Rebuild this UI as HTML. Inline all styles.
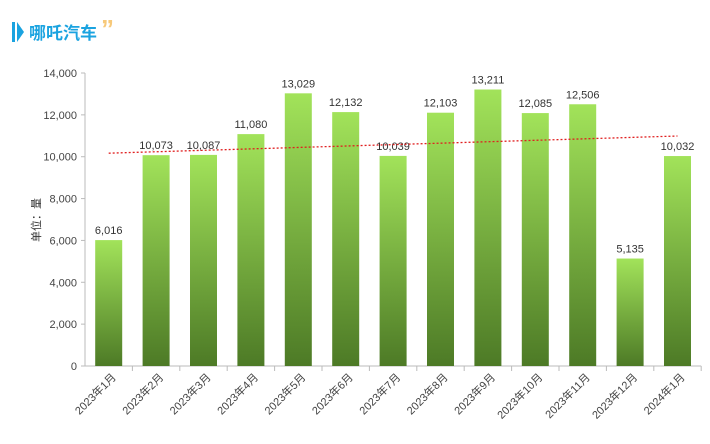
<!DOCTYPE html>
<html><head><meta charset="utf-8"><style>
body{margin:0;background:#fff;font-family:"Liberation Sans","Noto Sans CJK SC",sans-serif;}
#wrap{position:relative;width:710px;height:444px;overflow:hidden;}
</style></head><body>
<div id="wrap">
<svg id="chart" width="710" height="444" xmlns="http://www.w3.org/2000/svg">
<defs><linearGradient id="g" x1="0" y1="0" x2="0" y2="1">
<stop offset="0" stop-color="#a2e35a"/><stop offset="1" stop-color="#4d7a26"/></linearGradient></defs>
<rect x="12" y="22" width="3" height="20" fill="#1aa3e0"/>
<polygon points="17,22 24,32 17,42" fill="#1aa3e0"/>
<text x="29" y="39" font-size="17" font-weight="bold" fill="#1aa3e0">哪吒汽车</text>
<text x="101" y="38" font-size="26" font-weight="bold" fill="#f7c97a">”</text>
<text transform="translate(40,220) rotate(-90)" text-anchor="middle" font-size="11" fill="#333">单位：量</text>
<g id="plot"></g>
</svg>
</div>
<script>
const categories=["2023年1月","2023年2月","2023年3月","2023年4月","2023年5月","2023年6月","2023年7月","2023年8月","2023年9月","2023年10月","2023年11月","2023年12月","2024年1月"];
const values=[6016,10073,10087,11080,13029,12132,10039,12103,13211,12085,12506,5135,10032];
const yTicks=[0,2000,4000,6000,8000,10000,12000,14000];
const NS="http://www.w3.org/2000/svg";
const g=document.getElementById('plot');
const x0=85,cw=47.4,y0=366,yTop=73,yMax=14000,bw=27;
const y=v=>y0-(v/yMax)*(y0-yTop);
const x=i=>x0+i*cw;
function mk(t,a){const e=document.createElementNS(NS,t);for(const k in a)e.setAttribute(k,a[k]);g.appendChild(e);return e;}
let e=mk('line',{x1:x0,y1:yTop,x2:x0,y2:y0,stroke:'#bbb'});


e=mk('line',{x1:x0,y1:y0,x2:x(categories.length),y2:y0,stroke:'#bbb'});


yTicks.forEach(v=>{
 const t=mk('text',{x:x0-8,y:y(v)+4,'text-anchor':'end','font-size':'11',fill:'#444'});
 t.textContent=v.toLocaleString('en-US');
 
 
 const l=mk('line',{x1:x0-4,y1:y(v),x2:x0,y2:y(v),stroke:'#bbb'});
 
 
});
categories.forEach((c,i)=>{
 const v=values[i],bx=x(i)+(cw-bw)/2;
 const r=mk('rect',{x:bx,y:y(v),width:bw,height:y0-y(v),fill:'url(#g)'});
 
 
 const t=mk('text',{x:bx+bw/2,y:y(v)-6,'text-anchor':'middle','font-size':'11',fill:'#333'});
 t.textContent=v.toLocaleString('en-US');
 
 
 const tk=mk('line',{x1:x(i+1),y1:y0,x2:x(i+1),y2:y0+5,stroke:'#bbb'});
 
 
 const cx=x(i)+cw/2+8,cy=y0+12;
 const lb=mk('text',{x:cx,y:cy,'text-anchor':'end','font-size':'11',fill:'#444',transform:`rotate(-45 ${cx} ${cy})`});
 lb.textContent=c;
 
 
});
// linear trendline
const n=values.length;let sx=0,sy=0,sxy=0,sxx=0;
values.forEach((v,i)=>{sx+=i;sy+=v;sxy+=i*v;sxx+=i*i;});
const m=(n*sxy-sx*sy)/(n*sxx-sx*sx),b=(sy-m*sx)/n;
const tl=mk('line',{x1:x(0)+cw/2,y1:y(b),x2:x(n-1)+cw/2,y2:y(b+m*(n-1)),stroke:'#e02020','stroke-width':1.3,'stroke-dasharray':'2,2'});


</script>
</body></html>
